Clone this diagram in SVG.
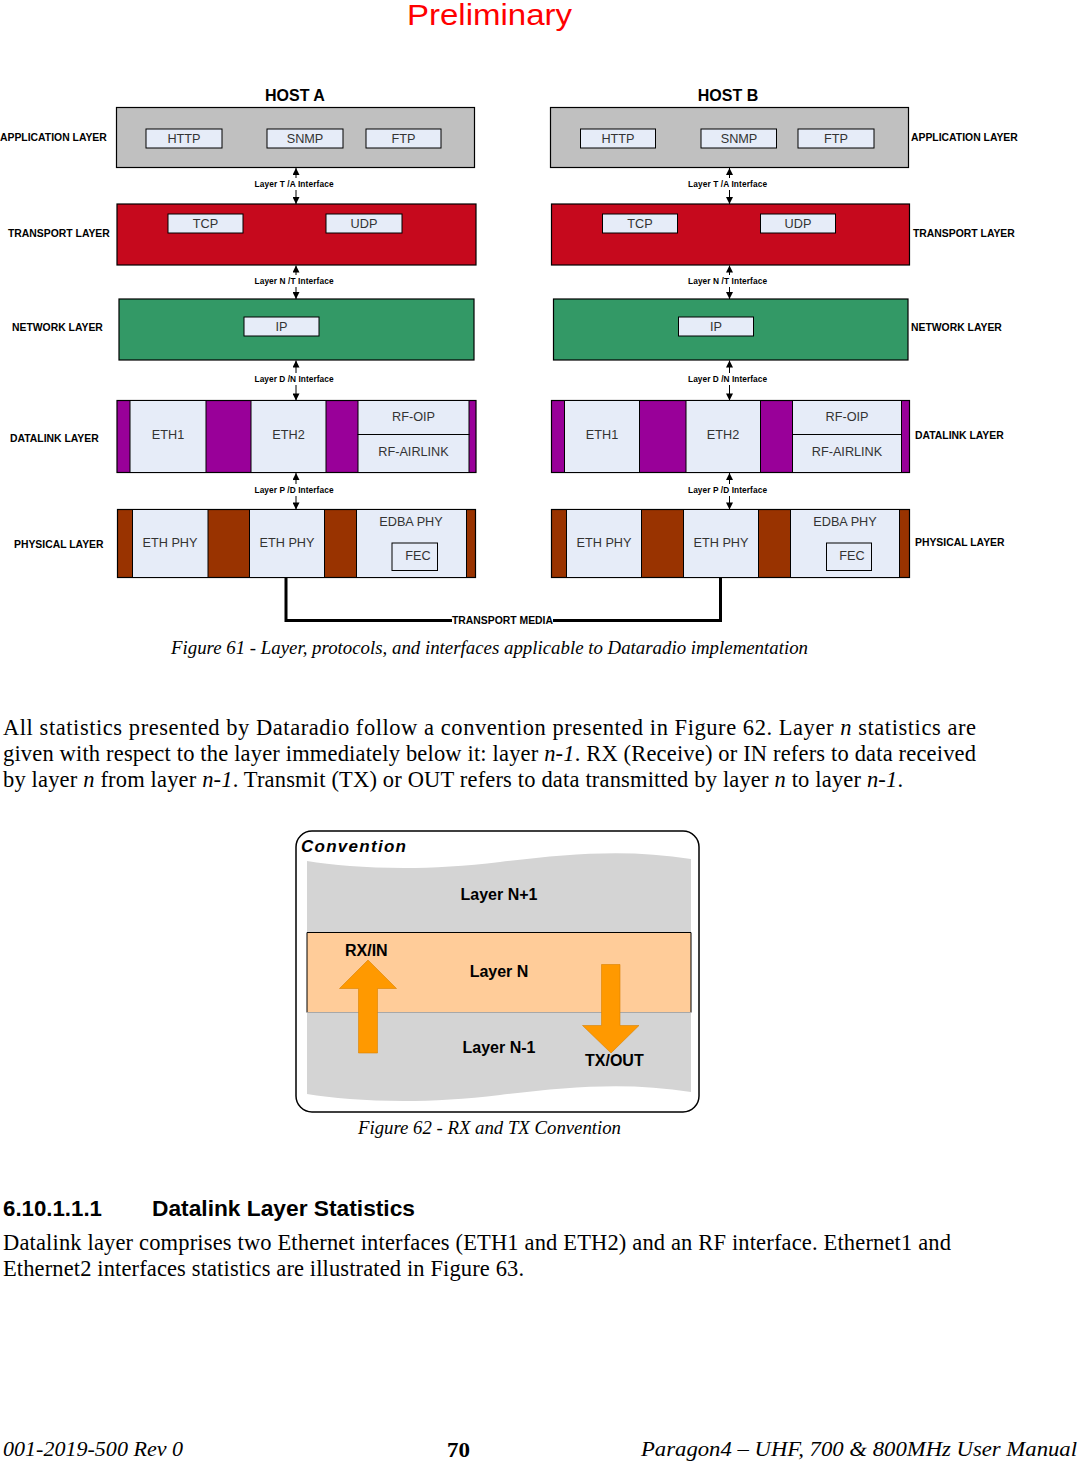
<svg xmlns="http://www.w3.org/2000/svg" width="1078" height="1461" viewBox="0 0 1078 1461">
<style>
.lbl{font-family:"Liberation Sans",Arial,sans-serif;font-weight:bold;font-size:10.4px;fill:#000}
.host{font-family:"Liberation Sans",Arial,sans-serif;font-weight:bold;font-size:16px;fill:#000;text-anchor:middle}
.ifc{font-family:"Liberation Sans",Arial,sans-serif;font-weight:bold;font-size:8.3px;fill:#000;text-anchor:middle}
.pt{font-family:"Liberation Sans",Arial,sans-serif;font-size:12.7px;fill:#333;text-anchor:middle}
.box{fill:#e6ecf8;stroke:#000;stroke-width:1}
.ol{stroke:#000;stroke-width:1.2}
.app{fill:#c0c0c0}
.trn{fill:#c6091d}
.net{fill:#339966}
.dl{fill:#990099}
.phy{fill:#993300}
.arr{stroke:#000;stroke-width:1;fill:none;marker-end:url(#ah)}
.media{stroke:#000;stroke-width:3;fill:none}
.cap{font-family:"Liberation Serif","Times New Roman",serif;font-style:italic;font-size:19px;fill:#000}
.body{font-family:"Liberation Serif","Times New Roman",serif;font-size:22.5px;fill:#000}
.cv{font-family:"Liberation Sans",Arial,sans-serif;font-weight:bold;font-size:16px;fill:#000}
.orange{fill:#ff9900;stroke:#d98200;stroke-width:0.6}
</style>
<defs>
<marker id="ah" viewBox="0 0 10 10" refX="10" refY="5" markerUnits="userSpaceOnUse" markerWidth="9" markerHeight="7" orient="auto">
<path d="M0,0 L10,5 L0,10 z" fill="#000"/>
</marker>
</defs>

<text x="407" y="25" font-family="Liberation Sans, Arial, sans-serif" font-size="29" fill="#ff0000" textLength="165" lengthAdjust="spacingAndGlyphs">Preliminary</text>

<!-- HOST A -->
<text class="host" x="295" y="101">HOST A</text>
<g id="hostA-application">
<rect class="app ol" x="116.5" y="107.5" width="358" height="60"/>
<rect class="box" x="146" y="129" width="76" height="19"/><text class="pt" x="184" y="142.5">HTTP</text>
<rect class="box" x="267" y="129" width="76" height="19"/><text class="pt" x="305" y="142.5">SNMP</text>
<rect class="box" x="366" y="129" width="75" height="19"/><text class="pt" x="403.5" y="142.5">FTP</text>
</g>
<g id="hostA-transport">
<rect class="trn ol" x="117" y="204" width="359" height="61"/>
<rect class="box" x="168" y="214" width="75" height="19"/><text class="pt" x="205.5" y="227.5">TCP</text>
<rect class="box" x="326" y="214" width="76" height="19"/><text class="pt" x="364" y="227.5">UDP</text>
</g>
<g id="hostA-network">
<rect class="net ol" x="119" y="299" width="355" height="61"/>
<rect class="box" x="244" y="317" width="75" height="19"/><text class="pt" x="281.5" y="330.5">IP</text>
</g>
<g id="hostA-datalink">
<rect class="dl ol" x="117" y="400.5" width="359" height="72"/>
<rect class="box" x="130" y="400.5" width="76" height="72"/><text class="pt" x="168" y="439">ETH1</text>
<rect class="box" x="251" y="400.5" width="75" height="72"/><text class="pt" x="288.5" y="439">ETH2</text>
<rect class="box" x="358" y="400.5" width="111" height="34"/><text class="pt" x="413.5" y="420.5">RF-OIP</text>
<rect class="box" x="358" y="434.5" width="111" height="38"/><text class="pt" x="413.5" y="455.5">RF-AIRLINK</text>
</g>
<g id="hostA-physical">
<rect class="phy ol" x="117.5" y="509.5" width="358" height="68"/>
<rect class="box" x="132.5" y="509.5" width="75.5" height="68"/><text class="pt" x="170" y="546.5">ETH PHY</text>
<rect class="box" x="249.5" y="509.5" width="75" height="68"/><text class="pt" x="287" y="546.5">ETH PHY</text>
<rect class="box" x="356.5" y="509.5" width="110" height="68"/><text class="pt" x="411" y="525.5">EDBA PHY</text>
<rect x="392" y="543" width="45.5" height="27.5" fill="none" stroke="#000" stroke-width="1"/><text class="pt" x="418" y="559.5">FEC</text>
</g>
<text class="lbl" x="0" y="141">APPLICATION LAYER</text>
<text class="lbl" x="8" y="237">TRANSPORT LAYER</text>
<text class="lbl" x="12" y="331">NETWORK LAYER</text>
<text class="lbl" x="10" y="442">DATALINK LAYER</text>
<text class="lbl" x="14" y="548">PHYSICAL LAYER</text>

<!-- HOST B -->
<text class="host" x="728" y="101">HOST B</text>
<g id="hostB-application">
<rect class="app ol" x="550.5" y="107.5" width="358" height="60"/>
<rect class="box" x="580.5" y="129" width="75" height="19"/><text class="pt" x="618" y="142.5">HTTP</text>
<rect class="box" x="701" y="129" width="75.5" height="19"/><text class="pt" x="739" y="142.5">SNMP</text>
<rect class="box" x="798" y="129" width="76" height="19"/><text class="pt" x="836" y="142.5">FTP</text>
</g>
<g id="hostB-transport">
<rect class="trn ol" x="551.5" y="204" width="358" height="61"/>
<rect class="box" x="602.5" y="214" width="75" height="19"/><text class="pt" x="640" y="227.5">TCP</text>
<rect class="box" x="760.5" y="214" width="75" height="19"/><text class="pt" x="798" y="227.5">UDP</text>
</g>
<g id="hostB-network">
<rect class="net ol" x="553.5" y="299" width="354.5" height="61"/>
<rect class="box" x="678.5" y="317" width="75" height="19"/><text class="pt" x="716" y="330.5">IP</text>
</g>
<g id="hostB-datalink">
<rect class="dl ol" x="551.5" y="400.5" width="358" height="72"/>
<rect class="box" x="564.5" y="400.5" width="75" height="72"/><text class="pt" x="602" y="439">ETH1</text>
<rect class="box" x="686" y="400.5" width="74.5" height="72"/><text class="pt" x="723" y="439">ETH2</text>
<rect class="box" x="792.5" y="400.5" width="109" height="34"/><text class="pt" x="847" y="420.5">RF-OIP</text>
<rect class="box" x="792.5" y="434.5" width="109" height="38"/><text class="pt" x="847" y="455.5">RF-AIRLINK</text>
</g>
<g id="hostB-physical">
<rect class="phy ol" x="551.5" y="509.5" width="358" height="68"/>
<rect class="box" x="566.5" y="509.5" width="75" height="68"/><text class="pt" x="604" y="546.5">ETH PHY</text>
<rect class="box" x="683.5" y="509.5" width="75" height="68"/><text class="pt" x="721" y="546.5">ETH PHY</text>
<rect class="box" x="790.5" y="509.5" width="109" height="68"/><text class="pt" x="845" y="525.5">EDBA PHY</text>
<rect x="826.5" y="543" width="45" height="27.5" fill="none" stroke="#000" stroke-width="1"/><text class="pt" x="852" y="559.5">FEC</text>
</g>
<text class="lbl" x="911" y="141">APPLICATION LAYER</text>
<text class="lbl" x="913" y="237">TRANSPORT LAYER</text>
<text class="lbl" x="911" y="331">NETWORK LAYER</text>
<text class="lbl" x="915" y="439">DATALINK LAYER</text>
<text class="lbl" x="915" y="546">PHYSICAL LAYER</text>

<!-- connectors -->
<g id="connectors">
<line class="arr" x1="296" y1="178" x2="296" y2="168"/>
<line class="arr" x1="296" y1="190" x2="296" y2="204"/>
<line class="arr" x1="296" y1="275" x2="296" y2="265.5"/>
<line class="arr" x1="296" y1="287" x2="296" y2="299"/>
<line class="arr" x1="296" y1="373" x2="296" y2="360.5"/>
<line class="arr" x1="296" y1="385" x2="296" y2="400.5"/>
<line class="arr" x1="296" y1="484" x2="296" y2="473"/>
<line class="arr" x1="296" y1="496" x2="296" y2="509.5"/>
<line class="arr" x1="729.5" y1="178" x2="729.5" y2="168"/>
<line class="arr" x1="729.5" y1="190" x2="729.5" y2="204"/>
<line class="arr" x1="729.5" y1="275" x2="729.5" y2="265.5"/>
<line class="arr" x1="729.5" y1="287" x2="729.5" y2="299"/>
<line class="arr" x1="729.5" y1="373" x2="729.5" y2="360.5"/>
<line class="arr" x1="729.5" y1="385" x2="729.5" y2="400.5"/>
<line class="arr" x1="729.5" y1="484" x2="729.5" y2="473"/>
<line class="arr" x1="729.5" y1="496" x2="729.5" y2="509.5"/>
<text class="ifc" x="294" y="187" textLength="79" lengthAdjust="spacing">Layer T /A Interface</text>
<text class="ifc" x="294" y="284" textLength="79" lengthAdjust="spacing">Layer N /T Interface</text>
<text class="ifc" x="294" y="382" textLength="79" lengthAdjust="spacing">Layer D /N Interface</text>
<text class="ifc" x="294" y="493" textLength="79" lengthAdjust="spacing">Layer P /D Interface</text>
<text class="ifc" x="727.5" y="187" textLength="79" lengthAdjust="spacing">Layer T /A Interface</text>
<text class="ifc" x="727.5" y="284" textLength="79" lengthAdjust="spacing">Layer N /T Interface</text>
<text class="ifc" x="727.5" y="382" textLength="79" lengthAdjust="spacing">Layer D /N Interface</text>
<text class="ifc" x="727.5" y="493" textLength="79" lengthAdjust="spacing">Layer P /D Interface</text>
<path class="media" d="M286,577.5 V620.5 H452"/>
<path class="media" d="M553,620.5 H720.5 V577.5"/>
<text class="lbl" x="452" y="623.5" textLength="101" lengthAdjust="spacingAndGlyphs">TRANSPORT MEDIA</text>
</g>

<text class="cap" x="171" y="654" textLength="637" lengthAdjust="spacingAndGlyphs">Figure 61 - Layer, protocols, and interfaces applicable to Dataradio implementation</text>

<text class="body" x="3" y="735" textLength="973" lengthAdjust="spacing">All statistics presented by Dataradio follow a convention presented in Figure 62. Layer <tspan font-style="italic">n</tspan> statistics are</text>
<text class="body" x="3" y="761" textLength="973" lengthAdjust="spacing">given with respect to the layer immediately below it: layer <tspan font-style="italic">n-1</tspan>. RX (Receive) or IN refers to data received</text>
<text class="body" x="3" y="787" textLength="900" lengthAdjust="spacing">by layer <tspan font-style="italic">n</tspan> from layer <tspan font-style="italic">n-1</tspan>. Transmit (TX) or OUT refers to data transmitted by layer <tspan font-style="italic">n</tspan> to layer <tspan font-style="italic">n-1</tspan>.</text>

<!-- Figure 62 -->
<g id="convention">
<rect x="296" y="831" width="403" height="281" rx="16" ry="16" fill="#fff" stroke="#000" stroke-width="1.5"/>
<text x="301" y="852" font-family="Liberation Sans, Arial, sans-serif" font-weight="bold" font-style="italic" font-size="17" textLength="105" lengthAdjust="spacing">Convention</text>
</g>
<g id="layer-band">
<path d="M307,861 C350,868 420,872 500,862 C570,853 630,849 691,859 L691,1092 C630,1082 570,1086 500,1095 C420,1105 350,1101 307,1094 Z" fill="#d4d4d4"/>
</g>
<g id="layer-n1"><text class="cv" x="499" y="900" text-anchor="middle">Layer N+1</text></g>
<g id="layer-n">
<rect x="307" y="932.5" width="384" height="80" fill="#ffcc99"/>
<path d="M307,1012.5 V932.5 H691 V1012.5" fill="none" stroke="#000" stroke-width="1"/>
<line x1="307" y1="1012.5" x2="691" y2="1012.5" stroke="#a8a8a8" stroke-width="1"/>
<text class="cv" x="499" y="977" text-anchor="middle">Layer N</text>
</g>
<g id="layer-nm1"><text class="cv" x="499" y="1053" text-anchor="middle">Layer N-1</text></g>
<g id="rx-arrow">
<polygon class="orange" points="358.5,1053 358.5,988.5 339.5,988.5 368,960 396.5,988.5 377.5,988.5 377.5,1053"/>
<text class="cv" x="345" y="956">RX/IN</text>
</g>
<g id="tx-arrow">
<polygon class="orange" points="601.5,964.5 620,964.5 620,1025.5 639,1025.5 611,1053 582.5,1025.5 601.5,1025.5"/>
<text class="cv" x="585" y="1066">TX/OUT</text>
</g>
<text class="cap" x="358" y="1134" textLength="263" lengthAdjust="spacingAndGlyphs">Figure 62 - RX and TX Convention</text>

<text x="3" y="1216" font-family="Liberation Sans, Arial, sans-serif" font-weight="bold" font-size="22" textLength="99" lengthAdjust="spacingAndGlyphs">6.10.1.1.1</text>
<text x="152" y="1216" font-family="Liberation Sans, Arial, sans-serif" font-weight="bold" font-size="22" textLength="263" lengthAdjust="spacingAndGlyphs">Datalink Layer Statistics</text>
<text class="body" x="3" y="1250" textLength="948" lengthAdjust="spacing">Datalink layer comprises two Ethernet interfaces (ETH1 and ETH2) and an RF interface. Ethernet1 and</text>
<text class="body" x="3" y="1276" textLength="521" lengthAdjust="spacing">Ethernet2 interfaces statistics are illustrated in Figure 63.</text>

<text x="3" y="1456" font-family="Liberation Serif, Times New Roman, serif" font-style="italic" font-size="22" textLength="180" lengthAdjust="spacingAndGlyphs">001-2019-500 Rev 0</text>
<text x="447" y="1457" font-family="Liberation Serif, Times New Roman, serif" font-weight="bold" font-size="22" textLength="23" lengthAdjust="spacingAndGlyphs">70</text>
<text x="641" y="1456" font-family="Liberation Serif, Times New Roman, serif" font-style="italic" font-size="22" textLength="436" lengthAdjust="spacingAndGlyphs">Paragon4 – UHF, 700  &amp; 800MHz User Manual</text>
</svg>
